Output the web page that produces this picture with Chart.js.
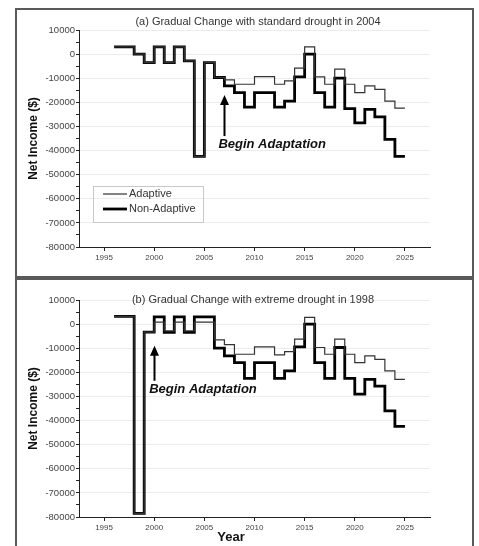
<!DOCTYPE html>
<html>
<head>
<meta charset="utf-8">
<script src="https://cdn.jsdelivr.net/npm/chart.js@4.4.1/dist/chart.umd.min.js"></script>
<style>
  body { margin: 0; background: #fff; width: 479px; height: 546px; overflow: hidden; position: relative; }
  .panel { position: absolute; left: 15px; width: 455px; border: 2px solid #5a5a5a; background: #fff; }
  #pa { top: 8px; height: 266px; }
  #pb { top: 278px; height: 266px; }
  canvas { display: block; }
</style>
</head>
<body>
<div class="panel" id="pa"><canvas id="chartA" width="455" height="266"></canvas></div>
<div class="panel" id="pb"><canvas id="chartB" width="455" height="266"></canvas></div>
<script>
// years (value of a year holds until the next year)
var years = [1996, 1997, 1998, 1999, 2000, 2001, 2002, 2003, 2004, 2005,
             2006, 2007, 2008, 2009, 2010, 2011, 2012, 2013, 2014, 2015,
             2016, 2017, 2018, 2019, 2020, 2021, 2022, 2023, 2024, 2025];

// (a) standard drought in 2004
var adaptiveA = [3000, 3000, 0, -3500, 3000, -3500, 3000, -2800, -42400, -3500,
                 -9700, -10700, -12500, -12500, -9300, -9300, -12500, -11100, -5800, 3000,
                 -9400, -12500, -6200, -12500, -16000, -13200, -14600, -19500, -22400, -22400];
var nonAdaptiveA = [3000, 3000, 0, -3500, 3000, -3500, 3000, -2800, -42400, -3500,
                    -9700, -13200, -16000, -22000, -16000, -16000, -22000, -19500, -9400, 0,
                    -16000, -22000, -10000, -22600, -28500, -22900, -26000, -35400, -42400, -42400];

// (b) extreme drought in 1998
var adaptiveB = [3200, 3200, -78500, -3300, 800, -2800, 800, -2800, 800, 800,
                 -6500, -8500, -12500, -12500, -9400, -9400, -12800, -11400, -6200, 2800,
                 -9700, -12500, -6200, -12500, -16000, -13200, -14600, -19400, -22900, -22900];
var nonAdaptiveB = [3200, 3200, -78500, -3300, 3000, -3400, 3000, -3400, 3000, 3000,
                    -10000, -13200, -16000, -22500, -16000, -16000, -22500, -19400, -9400, 0,
                    -16000, -22500, -9700, -22500, -29000, -22900, -25700, -36000, -42400, -42400];

var xTickLabels = [1995, 2000, 2005, 2010, 2015, 2020, 2025];
var yTickLabels = [10000, 0, -10000, -20000, -30000, -40000, -50000, -60000, -70000, -80000];

var FONT = "'Liberation Sans', Arial, sans-serif";

var overlay = {
  id: 'overlay',
  afterDatasetsDraw: function(chart, args, o) {
    var ctx = chart.ctx, x = chart.scales.x, y = chart.scales.y;
    ctx.save();
    // panel title
    ctx.fillStyle = '#333';
    ctx.font = '11px ' + FONT;
    ctx.textAlign = 'center';
    ctx.textBaseline = 'middle';
    ctx.fillText(o.title, o.titleX, o.titleY);

    // arrow
    var ax = Math.round(x.getPixelForValue(o.arrowYear)) + 0.5;
    var yBot = y.getPixelForValue(o.arrowFrom), yTip = y.getPixelForValue(o.arrowTo);
    ctx.strokeStyle = '#000';
    ctx.fillStyle = '#000';
    ctx.lineWidth = 2;
    ctx.beginPath();
    ctx.moveTo(ax, yBot);
    ctx.lineTo(ax, yTip + 6);
    ctx.stroke();
    ctx.beginPath();
    ctx.moveTo(ax, yTip);
    ctx.lineTo(ax - 4.5, yTip + 10);
    ctx.lineTo(ax + 4.5, yTip + 10);
    ctx.closePath();
    ctx.fill();

    ctx.font = 'italic bold 13px ' + FONT;
    ctx.textAlign = 'left';
    ctx.fillStyle = '#111';
    ctx.fillText('Begin Adaptation', x.getPixelForValue(o.textYear), y.getPixelForValue(o.textValue));

    if (o.legend) {
      var L = o.legend;
      ctx.strokeStyle = '#c8c8c8';
      ctx.lineWidth = 1;
      ctx.strokeRect(L.x + 0.5, L.y + 0.5, L.w, L.h);
      chart.data.datasets.forEach(function(ds, i) {
        var ly = L.y + L.row0 + i * L.rowGap;
        ctx.strokeStyle = ds.borderColor;
        ctx.lineWidth = ds.borderWidth;
        ctx.beginPath();
        ctx.moveTo(L.x + 10, ly);
        ctx.lineTo(L.x + 34, ly);
        ctx.stroke();
        ctx.fillStyle = '#333';
        ctx.font = '11px ' + FONT;
        ctx.textAlign = 'left';
        ctx.fillText(ds.label, L.x + 36, ly);
      });
    }

    if (o.xTitle) {
      ctx.fillStyle = '#111';
      ctx.font = 'bold 13px ' + FONT;
      ctx.textAlign = 'center';
      ctx.fillText(o.xTitle, o.xTitleX, o.xTitleY);
    }
    ctx.restore();
  }
};

function points(vals) {
  return years.map(function(yr, i) { return { x: yr, y: vals[i] }; });
}

function makeChart(id, adaptive, nonAdaptive, extra) {
  return new Chart(document.getElementById(id), {
    type: 'line',
    data: {
      datasets: [{
        label: 'Adaptive',
        data: points(adaptive),
        borderColor: '#333',
        borderWidth: 1.2,
        stepped: 'before',
        pointRadius: 0,
        fill: false,
        borderJoinStyle: 'miter'
      }, {
        label: 'Non-Adaptive',
        data: points(nonAdaptive),
        borderColor: '#000',
        borderWidth: 2.8,
        stepped: 'before',
        pointRadius: 0,
        fill: false,
        borderJoinStyle: 'miter'
      }]
    },
    options: {
      responsive: false,
      animation: false,
      events: [],
      devicePixelRatio: 1,
      layout: { padding: { top: 20, right: 42, left: 0, bottom: 0 } },
      plugins: {
        legend: { display: false },
        tooltip: { enabled: false },
        title: { display: false },
        overlay: extra
      },
      scales: {
        x: {
          type: 'linear',
          min: 1992.5,
          max: 2027.5,
          afterBuildTicks: function(s) { s.ticks = xTickLabels.map(function(v) { return { value: v }; }); },
          afterFit: function(s) { s.height = 29; },
          ticks: {
            autoSkip: false,
            maxRotation: 0,
            padding: 2,
            color: '#444',
            font: { family: FONT, size: 8 },
            callback: function(v) { return String(v); }
          },
          grid: { drawOnChartArea: false, tickLength: 4, color: '#222' },
          border: { color: '#222', width: 1 }
        },
        y: {
          type: 'linear',
          min: -80000,
          max: 10000,
          afterBuildTicks: function(s) {
            var t = [];
            yTickLabels.forEach(function(v, i) {
              t.push({ value: v });
              if (i < yTickLabels.length - 1) t.push({ value: v - 5000 });
            });
            s.ticks = t;
          },
          afterFit: function(s) { s.width = 62; },
          ticks: {
            autoSkip: false,
            padding: 1,
            color: '#444',
            font: { family: FONT, size: 9.5 },
            callback: function(v) { return yTickLabels.indexOf(v) >= 0 ? String(v) : ''; }
          },
          grid: {
            tickLength: 3,
            tickColor: '#222',
            color: function(c) { return c.tick && yTickLabels.indexOf(c.tick.value) >= 0 ? '#ececec' : 'rgba(0,0,0,0)'; }
          },
          border: { color: '#222', width: 1 },
          title: {
            display: true,
            text: 'Net Income ($)',
            color: '#111',
            font: { family: FONT, size: 12, weight: 'bold' },
            padding: { top: 9, bottom: 0 }
          }
        }
      }
    },
    plugins: [overlay]
  });
}

makeChart('chartA', adaptiveA, nonAdaptiveA, {
  title: '(a) Gradual Change with standard drought in 2004',
  titleX: 241, titleY: 12,
  arrowYear: 2007, arrowFrom: -34000, arrowTo: -17000,
  textYear: 2006.4, textValue: -37500,
  legend: { x: 76, y: 176, w: 110, h: 36, row0: 8, rowGap: 15 }
});

makeChart('chartB', adaptiveB, nonAdaptiveB, {
  title: '(b) Gradual Change with extreme drought in 1998',
  titleX: 236, titleY: 20,
  arrowYear: 2000, arrowFrom: -23500, arrowTo: -9000,
  textYear: 1999.5, textValue: -27000,
  xTitle: 'Year', xTitleX: 214, xTitleY: 257
});
</script>
</body>
</html>
